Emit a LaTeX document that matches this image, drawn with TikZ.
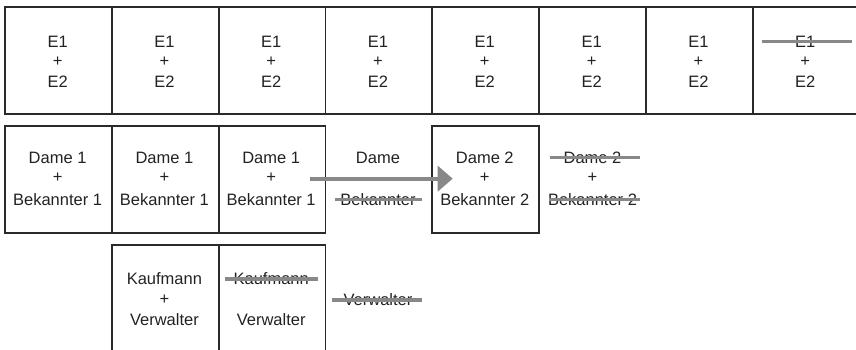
\documentclass[tikz,border=0pt]{standalone}
\usepackage{fontspec}
\setmainfont{Liberation Sans}
\usetikzlibrary{arrows.meta}
\definecolor{ink}{HTML}{222222}
\definecolor{boxline}{HTML}{2A2A2A}
\definecolor{strk}{HTML}{888888}
\begin{document}
\begin{tikzpicture}[x=1pt,y=-1pt,
  cell/.style={draw=boxline, line width=1.8pt, minimum width=106.8pt, minimum height=107pt, inner sep=0pt, anchor=north west},
  txt/.style={inner sep=0pt, text=ink, font=\fontsize{16.5}{20}\selectfont},
  strike/.style={draw=strk, line width=3.8pt},
  bigarrow/.style={draw=strk, line width=4pt, -{Triangle[length=15pt,width=25pt]}}]
\path[use as bounding box, clip] (0,0) rectangle (856,349);
% row 1
\foreach \k in {1,...,8}{
  \node[cell] (a\k) at ({4.2+106.8*(\k-1)},6) {};
  \node[txt] (a\k x) at ({57.6+106.8*(\k-1)},41.5) {E1};
  \node[txt] (a\k p) at ({57.6+106.8*(\k-1)},61.5) {+};
  \node[txt] (a\k y) at ({57.6+106.8*(\k-1)},81.5) {E2};
}
% row 2 boxes
\foreach \k in {1,2,3}{
  \node[cell, minimum height=106.7pt] (b\k) at ({4.2+106.8*(\k-1)},125) {};
  \node[txt] (b\k x) at ({57.6+106.8*(\k-1)},157.5) {Dame 1};
  \node[txt] (b\k p) at ({57.6+106.8*(\k-1)},178) {+};
  \node[txt] (b\k y) at ({57.6+106.8*(\k-1)},199.5) {Bekannter 1};
}
\node[cell, minimum height=106.7pt] (b5) at (431.4,125) {};
\node[txt] (b5x) at (484.8,157.5) {Dame 2};
\node[txt] (b5p) at (484.8,178) {+};
\node[txt] (b5y) at (484.8,199.5) {Bekannter 2};
% column 4 free text
\node[txt] (b4x) at (378,157.5) {Dame};
\node[txt] (b4y) at (378,199.5) {Bekannter};
% column 6 free text
\node[txt] (b6x) at (592.5,157.5) {Dame 2};
\node[txt] (b6p) at (592.5,178) {+};
\node[txt] (b6y) at (592.5,199.5) {Bekannter 2};
% row 3
\node[cell] (c2) at (111,244.3) {};
\node[cell] (c3) at (217.8,244.3) {};
\node[txt] (c2x) at (164.4,279) {Kaufmann};
\node[txt] (c2p) at (164.4,299.5) {+};
\node[txt] (c2y) at (164.4,320) {Verwalter};
\node[txt] (c3x) at (271.2,279) {Kaufmann};
\node[txt] (c3y) at (271.2,320) {Verwalter};
\node[txt] (c4y) at (378,300) {Verwalter};
% strike-throughs
\draw[strike] ([xshift=-43.5pt]a8x.center) -- ([xshift=47pt]a8x.center);
\draw[strike] ([xshift=-43pt]b4y.center) -- ([xshift=43.7pt]b4y.center);
\draw[strike] ([xshift=-43pt]b6x.center) -- ([xshift=47.5pt]b6x.center);
\draw[strike] ([xshift=-44pt]b6y.center) -- ([xshift=47.5pt]b6y.center);
\draw[strike] ([xshift=-46.2pt]c3x.center) -- ([xshift=46.5pt]c3x.center);
\draw[strike] ([xshift=-46.3pt]c4y.center) -- ([xshift=43.7pt]c4y.center);
% arrow
\draw[bigarrow] ([xshift=-16.6pt,yshift=0.6pt]b3.east) -- ([xshift=21.3pt,yshift=0.6pt]b5.west);
\end{tikzpicture}
\end{document}
